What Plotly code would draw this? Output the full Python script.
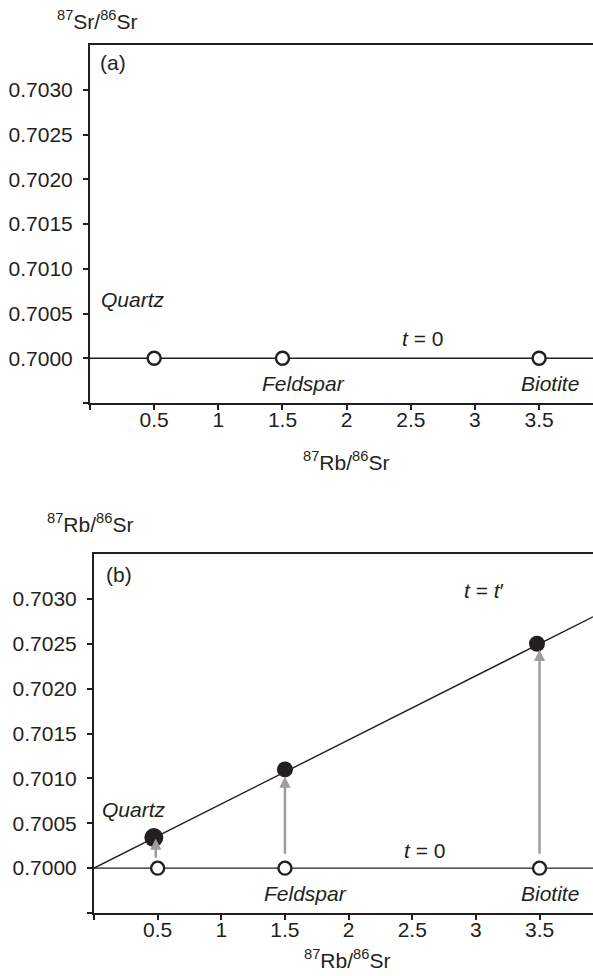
import plotly.graph_objects as go

# ---------------- data ----------------
minerals = ["Quartz", "Feldspar", "Biotite"]
rb_sr_initial = [0.5, 1.5, 3.5]            # 87Rb/86Sr at t = 0
sr_initial = [0.7000, 0.7000, 0.7000]      # 87Sr/86Sr at t = 0
rb_sr_later = [0.47, 1.5, 3.48]            # 87Rb/86Sr at t = t'
sr_later = [0.70034, 0.70110, 0.70250]     # 87Sr/86Sr at t = t'
arrow_x = [0.485, 1.5, 3.5]
t0_line_x = [0.0, 3.92]
t0_line_y = [0.7000, 0.7000]
isochron_x = [0.0, 3.92]
isochron_y = [0.7000, 0.70280]
x_ticks = [0, 0.5, 1, 1.5, 2, 2.5, 3, 3.5]
x_ticktext = ["", "0.5", "1", "1.5", "2", "2.5", "3", "3.5"]
y_ticks = [0.6995, 0.7000, 0.7005, 0.7010, 0.7015, 0.7020, 0.7025, 0.7030]
y_ticktext = ["", "0.7000", "0.7005", "0.7010", "0.7015", "0.7020", "0.7025", "0.7030"]
x_range = [0, 3.92]
y_range = [0.6995, 0.7035]

# ---------------- style ----------------
W, H = 593, 976
INK = "#231f20"
GREY = "#9d9d9d"
FONT = "Liberation Sans, Arial, Helvetica, sans-serif"
FS = 21
filled_sizes = [19, 16, 16]

fig = go.Figure()

# panel (a)
fig.add_trace(go.Scatter(x=t0_line_x, y=t0_line_y, mode="lines",
                         line=dict(color=INK, width=1.4), xaxis="x", yaxis="y",
                         hoverinfo="skip", showlegend=False))
fig.add_trace(go.Scatter(x=rb_sr_initial, y=sr_initial, mode="markers",
                         marker=dict(size=13, color="white", opacity=1,
                                     line=dict(color=INK, width=2.4)),
                         xaxis="x", yaxis="y", showlegend=False, text=minerals))

# panel (b)
fig.add_trace(go.Scatter(x=t0_line_x, y=t0_line_y, mode="lines",
                         line=dict(color=INK, width=1.4), xaxis="x2", yaxis="y2",
                         hoverinfo="skip", showlegend=False))
fig.add_trace(go.Scatter(x=isochron_x, y=isochron_y, mode="lines",
                         line=dict(color=INK, width=1.4), xaxis="x2", yaxis="y2",
                         hoverinfo="skip", showlegend=False))
fig.add_trace(go.Scatter(x=rb_sr_initial, y=sr_initial, mode="markers",
                         marker=dict(size=13, color="white", opacity=1,
                                     line=dict(color=INK, width=2.4)),
                         xaxis="x2", yaxis="y2", showlegend=False, text=minerals))
fig.add_trace(go.Scatter(x=rb_sr_later, y=sr_later, mode="markers",
                         marker=dict(size=filled_sizes, color=INK, opacity=1,
                                     line=dict(width=0)),
                         xaxis="x2", yaxis="y2", showlegend=False, text=minerals))

axis_common = dict(showline=True, linecolor=INK, linewidth=2, showgrid=False,
                   zeroline=False, ticks="outside", tickcolor=INK, tickwidth=1.5,
                   automargin=False,
                   tickfont=dict(family=FONT, size=FS, color=INK))

xa = dict(axis_common, range=x_range, tickvals=x_ticks, ticktext=x_ticktext,
          ticklen=5, mirror=True, ticklabelstandoff=-8)
ya = dict(axis_common, range=y_range, tickvals=y_ticks, ticktext=y_ticktext,
          ticklen=5, ticklabelstandoff=6)

fig.update_layout(
    width=W, height=H, margin=dict(l=0, r=0, t=0, b=0, autoexpand=False),
    paper_bgcolor="white", plot_bgcolor="white",
    font=dict(family=FONT, size=FS, color=INK),
    xaxis=dict(xa, domain=[90 / W, 1], anchor="y"),
    yaxis=dict(ya, domain=[1 - 403 / H, 1 - 45 / H], anchor="x"),
    xaxis2=dict(xa, domain=[94 / W, 1], anchor="y2"),
    yaxis2=dict(ya, domain=[1 - 913 / H, 1 - 554 / H], anchor="x2"),
)

ann = []
def txt(text, x, y, xref, yref, xanchor="center", yanchor="middle"):
    ann.append(dict(text=text, x=x, y=y, xref=xref, yref=yref, xanchor=xanchor,
                    yanchor=yanchor, showarrow=False,
                    font=dict(family=FONT, size=FS, color=INK)))

# axis titles (paper coords)
txt("<sup>87</sup>Sr/<sup>86</sup>Sr", 97 / W, 1 - 20 / H, "paper", "paper")
txt("<sup>87</sup>Rb/<sup>86</sup>Sr", 346 / W, 1 - 461 / H, "paper", "paper")
txt("<sup>87</sup>Rb/<sup>86</sup>Sr", 90 / W, 1 - 523 / H, "paper", "paper")
txt("<sup>87</sup>Rb/<sup>86</sup>Sr", 347 / W, 1 - 959 / H, "paper", "paper")

# panel (a) labels
txt("(a)", 0.065, 0.70330, "x", "y", xanchor="left")
txt("<i>Quartz</i>", 0.068, 0.70066, "x", "y", xanchor="left")
txt("<i>Feldspar</i>", 1.665, 0.69972, "x", "y")
txt("<i>Biotite</i>", 3.585, 0.69972, "x", "y")
txt("<i>t</i> = 0", 2.59, 0.70022, "x", "y")

# panel (b) labels
txt("(b)", 0.08, 0.70327, "x2", "y2", xanchor="left")
txt("<i>Quartz</i>", 0.045, 0.70065, "x2", "y2", xanchor="left")
txt("<i>Feldspar</i>", 1.665, 0.69972, "x2", "y2")
txt("<i>Biotite</i>", 3.585, 0.69972, "x2", "y2")
txt("<i>t</i> = 0", 2.6, 0.70020, "x2", "y2")
txt("<i>t</i> = <i>t</i>′", 3.06, 0.70309, "x2", "y2")

# growth arrows
standoffs = [1, 7, 6]
startstandoffs = [9, 13, 13]
for xa_, ys, ye, so, sso in zip(arrow_x, sr_initial, sr_later, standoffs, startstandoffs):
    ann.append(dict(x=xa_, y=ye, ax=xa_, ay=ys, xref="x2", yref="y2",
                    axref="x2", ayref="y2", showarrow=True, arrowhead=2,
                    arrowsize=0.9, arrowwidth=2.5, arrowcolor=GREY,
                    standoff=so, startstandoff=sso, text=""))

fig.update_layout(annotations=ann)
fig.write_html("out.html", config={"displayModeBar": False},
               post_script="document.body.style.margin='0';document.body.style.overflow='hidden';")
